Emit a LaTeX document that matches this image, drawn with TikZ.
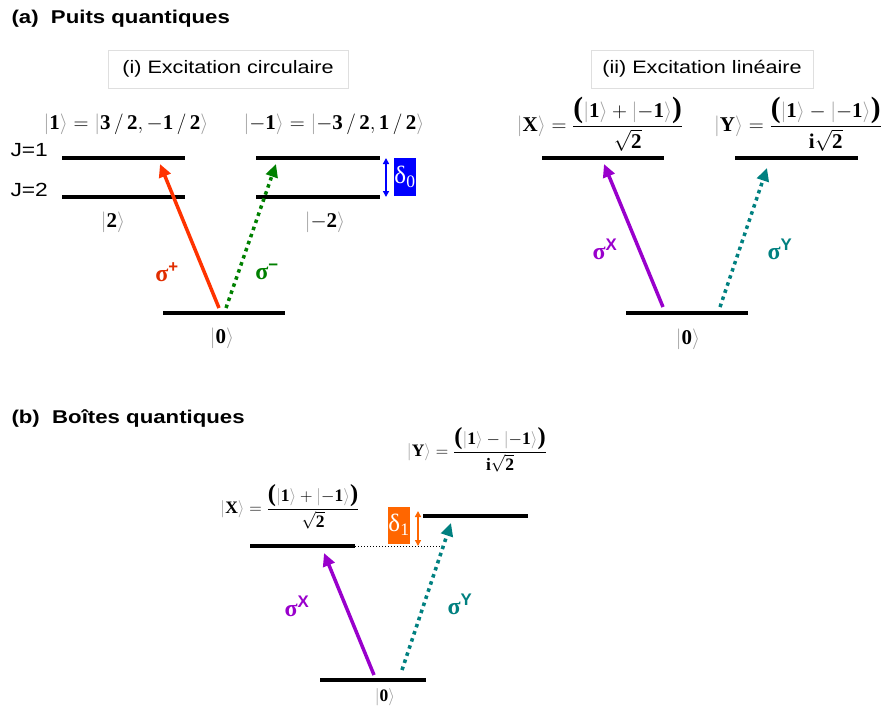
\documentclass[tikz,border=0pt]{standalone}
\usepackage{amsmath}
\usepackage{fontspec}
\setmainfont{Liberation Serif}
\setsansfont{Liberation Sans}
\usetikzlibrary{positioning}
\usetikzlibrary{arrows.meta}

\definecolor{redarr}{RGB}{255,51,0}
\definecolor{redlab}{RGB}{225,45,0}
\definecolor{greenarr}{RGB}{0,128,0}
\definecolor{purplearr}{RGB}{153,0,204}
\definecolor{tealarr}{RGB}{0,128,128}
\definecolor{bluebox}{RGB}{0,0,255}
\definecolor{orangebox}{RGB}{255,102,0}

\newcommand{\ketb}[1]{{\color{gray!80}\vert}\mathbf{#1}{\color{gray!80}\rangle}}
\newcommand{\bpar}[1]{\scalebox{1.4}{\bfseries #1}}
\newcommand{\wide}[1]{\scalebox{1.2}[1]{#1}}

\tikzset{
  level/.style={line width=3.5pt},
  txt/.style={font=\fontsize{18}{20}\selectfont\sffamily},
  title/.style={font=\fontsize{18.5}{20}\selectfont\sffamily\bfseries, anchor=west},
  boxlab/.style={txt, draw=gray!25, line width=0.8pt, minimum width=240pt, minimum height=38pt},
  ket/.style={font=\fontsize{21}{22}\selectfont, inner sep=1pt},
  ketsm/.style={font=\fontsize{17.5}{18}\selectfont, inner sep=1pt},
  siglab/.style={font=\fontsize{24}{24}\selectfont\bfseries, inner sep=1pt},
  excite/.style={line width=3.5pt, -{Triangle[length=13pt,width=12pt]}},
  dotexc/.style={excite, dash pattern=on 3.5pt off 4pt},
  gap/.style={line width=1.5pt, {Triangle[length=6pt,width=6pt]}-{Triangle[length=6pt,width=6pt]}},
  deltabox/.style={text=white, inner sep=0pt, font=\fontsize{25}{25}\selectfont}
}

\begin{document}
\begin{tikzpicture}[x=1pt, y=-1pt]
\useasboundingbox (0,0) rectangle (883,710);

% Titles
\node[title] (ta) at (8,19) {\wide{(a)\ \ Puits quantiques}};
\node[title] (tb) at (8,419) {\wide{(b)\ \ Boîtes quantiques}};
\node[boxlab] (circ) at (228,69) {\wide{(i) Excitation circulaire}};
\node[boxlab, minimum width=222pt] (lin) at (702,69) {\wide{(ii) Excitation linéaire}};

% (i) levels
\draw[level] (62,158) -- (185,158);
\draw[level] (62,197) -- (185,197);
\draw[level] (256,158) -- (380,158);
\draw[level] (256,197) -- (380,197);
\draw[level] (163,313) -- (285,313);
\node[txt, anchor=west, font=\fontsize{19}{20}\selectfont\sffamily] (j1) at (7,150) {\wide{J=1}};
\node[txt, anchor=west, font=\fontsize{19}{20}\selectfont\sffamily] (j2) at (7,190) {\wide{J=2}};
\node[ket] (k1) at (126,124) {$\ketb{1}=\ketb{3\,/\,2,-1\,/\,2}$};
\node[ket] (km1) at (334,124) {$\ketb{-1}=\ketb{-3\,/\,2,1\,/\,2}$};
\node[ket] (k2) at (113,222) {$\ketb{2}$};
\node[ket] (km2) at (325,222) {$\ketb{-2}$};
\node[ket] (k0a) at (222,338) {$\ketb{0}$};

% delta0
\node[deltabox, fill=bluebox, minimum width=22pt, minimum height=38pt] (d0) at (405,177) {δ\textsubscript{0}};
\coordinate (d0t) at (386,158);
\coordinate (d0b) at (386,197);
\draw[gap, bluebox] (d0t) -- (d0b);

% (i) transitions
\coordinate (sa) at (219,308);
\coordinate (ea) at (160,164);
\coordinate (sb) at (226,308);
\coordinate (eb) at (276,164);
\draw[excite, redarr] (sa) -- (ea);
\draw[dotexc, greenarr] (sb) -- (eb);
\node[siglab, text=redlab] (sp) at (167,272) {σ\textsuperscript{\sffamily +}};
\node[siglab, text=greenarr] (sm) at (267,272) {σ\textsuperscript{\sffamily −}};

% (ii) levels
\draw[level] (542,158) -- (664,158);
\draw[level] (735,158) -- (858,158);
\draw[level] (626,313) -- (748,313);
\node[ket] (kx) at (600,124) {$\ketb{X}=\dfrac{\bpar{(}\ketb{1}+\ketb{-1}\bpar{)}}{\sqrt{\mathbf{2}}}$};
\node[ket] (ky) at (798,124) {$\ketb{Y}=\dfrac{\bpar{(}\ketb{1}-\ketb{-1}\bpar{)}}{\mathbf{i}\sqrt{\mathbf{2}}}$};
\node[ket] (k0b) at (688,339) {$\ketb{0}$};

% (ii) transitions
\coordinate (sc) at (663,307);
\coordinate (ec) at (604,164);
\coordinate (sd) at (720,307);
\coordinate (ed) at (767,168);
\draw[excite, purplearr] (sc) -- (ec);
\draw[dotexc, tealarr] (sd) -- (ed);
\node[siglab, text=purplearr] (sx) at (605,249) {σ\textsuperscript{\sffamily X}};
\node[siglab, text=tealarr] (sy) at (780,249) {σ\textsuperscript{\sffamily Y}};

% (b) levels
\draw[level] (250,546) -- (355,546);
\draw[dotted, line width=1pt] (355,546) -- (440,546);
\draw[level] (423,516) -- (528,516);
\draw[level] (320,680) -- (426,680);
\node[ketsm] (kxb) at (290,507) {$\ketb{X}=\dfrac{\bpar{(}\ketb{1}+\ketb{-1}\bpar{)}}{\sqrt{\mathbf{2}}}$};
\node[ketsm] (kyb) at (477,450) {$\ketb{Y}=\dfrac{\bpar{(}\ketb{1}-\ketb{-1}\bpar{)}}{\mathbf{i}\sqrt{\mathbf{2}}}$};
\node[ketsm] (k0c) at (385,697) {$\ketb{0}$};

% delta1
\node[deltabox, fill=orangebox, minimum width=20pt, minimum height=37pt] (d1) at (399,525) {δ\textsubscript{1}};
\coordinate (d1t) at (418,511);
\coordinate (d1b) at (418,546);
\draw[gap, orangebox] (d1t) -- (d1b);

% (b) transitions
\coordinate (se) at (374,675);
\coordinate (ee) at (324,553);
\coordinate (sf) at (402,670);
\coordinate (ef) at (451,523);
\draw[excite, purplearr] (se) -- (ee);
\draw[dotexc, tealarr] (sf) -- (ef);
\node[siglab, text=purplearr] (sxb) at (297,606) {σ\textsuperscript{\sffamily X}};
\node[siglab, text=tealarr] (syb) at (460,604) {σ\textsuperscript{\sffamily Y}};

\end{tikzpicture}
\end{document}
